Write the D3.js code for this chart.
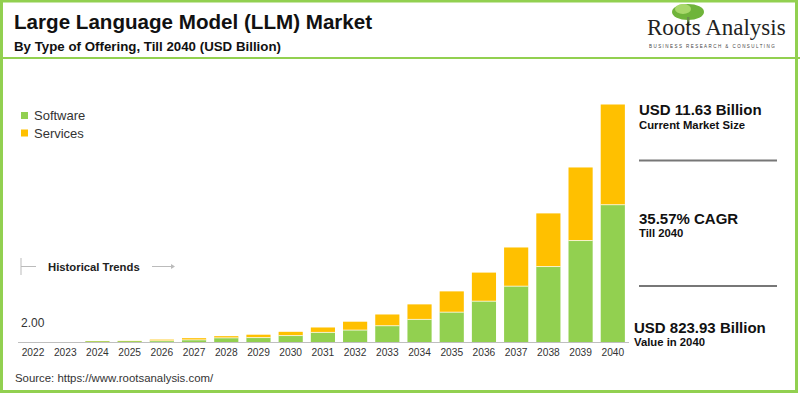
<!DOCTYPE html>
<html><head><meta charset="utf-8">
<script src="https://cdn.jsdelivr.net/npm/d3@7/dist/d3.min.js"></script>
<style>body{margin:0;background:#fff}svg{display:block;font-family:"Liberation Sans",Arial,sans-serif}</style>
</head><body><div id="chart"></div>
<script>
const years = ["2022","2023","2024","2025","2026","2027","2028","2029","2030","2031","2032","2033","2034","2035","2036","2037","2038","2039","2040"];
const software = [0.4,0.6,4.5,4.8,6,9,16,17,24,35,43,58,80,105,143,195,263,353,477];
const services = [0.2,0.3,0.6,0.7,4,6,6,10,13,17,29,39,52,72,99,134,184,253,347];
const seriesNames = ["Software","Services"];
const colors = ["#92D050","#FFC000"];

const W=800,H=393;
const svg=d3.select("#chart").append("svg").attr("width",W).attr("height",H);
svg.append("rect").attr("width",W).attr("height",H).attr("fill","#fff");

const x=d3.scaleBand().domain(years).range([16.9,628.9]).paddingInner(0.25).paddingOuter(0.125);
const y=d3.scaleLinear().domain([0,824]).range([342.5,104.5]);

const data=years.map((yr,i)=>({year:yr,Software:software[i],Services:services[i]}));
const stack=d3.stack().keys(seriesNames)(data);
svg.append("g").selectAll("g").data(stack).join("g").attr("fill",(d,i)=>colors[i])
  .selectAll("rect").data(d=>d).join("rect")
  .attr("x",d=>x(d.data.year)).attr("width",x.bandwidth())
  .attr("y",d=>y(d[1])).attr("height",d=>Math.max(0,y(d[0])-y(d[1])));
svg.append("g").selectAll("line").data(data.filter(d=>d.Services>1)).join("line")
  .attr("x1",d=>x(d.year)).attr("x2",d=>x(d.year)+x.bandwidth())
  .attr("y1",d=>y(d.Software)).attr("y2",d=>y(d.Software))
  .attr("stroke","#fff").attr("stroke-opacity",0.7).attr("stroke-width",1);

const xAxis=d3.axisBottom(x).tickSize(0).tickPadding(6);
const gx=svg.append("g").attr("transform","translate(0,342.5)").call(xAxis);
gx.select(".domain").attr("stroke","#bfbfbf").attr("d","M18,0H629");
gx.selectAll("text").attr("font-size",10.2).attr("fill","#333").attr("font-family","'Liberation Sans',Arial,sans-serif");

svg.append("text").attr("x",21).attr("y",327).attr("font-size",12).attr("fill","#333").text("2.00");

const ht=svg.append("g").attr("stroke","#bbb").attr("stroke-width",1);
ht.append("line").attr("x1",21).attr("x2",21).attr("y1",258).attr("y2",275);
ht.append("line").attr("x1",21).attr("x2",36).attr("y1",266.5).attr("y2",266.5);
ht.append("line").attr("x1",152).attr("x2",174).attr("y1",266.5).attr("y2",266.5);
svg.append("path").attr("d","M171,264L175,266.5L171,269Z").attr("fill","#bbb");
svg.append("text").attr("x",48).attr("y",270.5).attr("font-size",11.3).attr("font-weight","bold").attr("fill","#222").text("Historical Trends");

const lg=svg.append("g").attr("transform","translate(21,112)");
seriesNames.forEach((n,i)=>{
  lg.append("rect").attr("x",0).attr("y",i*17.5).attr("width",7).attr("height",7).attr("fill",colors[i]);
  lg.append("text").attr("x",13).attr("y",i*17.5+8).attr("font-size",13).attr("fill","#333").text(n);
});

svg.append("text").attr("x",14).attr("y",28.5).attr("font-size",20.6).attr("font-weight","bold").attr("fill","#111").text("Large Language Model (LLM) Market");
svg.append("text").attr("x",14).attr("y",51).attr("font-size",13.3).attr("font-weight","bold").attr("fill","#111").text("By Type of Offering, Till 2040 (USD Billion)");
svg.append("text").attr("x",15).attr("y",382).attr("font-size",11.4).attr("fill","#333").text("Source: https://www.rootsanalysis.com/");

const ann=[{t1:"USD 11.63 Billion",t2:"Current Market Size",x:639,y:115},
           {t1:"35.57% CAGR",t2:"Till 2040",x:639,y:223.5},
           {t1:"USD 823.93 Billion",t2:"Value in 2040",x:634,y:332.5}];
ann.forEach(a=>{
  svg.append("text").attr("x",a.x).attr("y",a.y).attr("font-size",15).attr("font-weight","bold").attr("fill","#111").text(a.t1);
  svg.append("text").attr("x",a.x).attr("y",a.y+13.5).attr("font-size",11.3).attr("font-weight","bold").attr("fill","#111").text(a.t2);
});
[160.5,286].forEach(v=>svg.append("line").attr("x1",639).attr("x2",777).attr("y1",v).attr("y2",v).attr("stroke","#777").attr("stroke-width",2));

const logo=svg.append("g");
logo.append("ellipse").attr("cx",688).attr("cy",12).attr("rx",16).attr("ry",8).attr("fill","#6fb43a");
logo.append("ellipse").attr("cx",683).attr("cy",9).attr("rx",8).attr("ry",5).attr("fill","#a8d86a");
logo.append("rect").attr("x",687).attr("y",17).attr("width",2.5).attr("height",9).attr("fill","#6a8f4a");
logo.append("text").attr("x",647).attr("y",35).attr("font-family","'Liberation Serif','DejaVu Serif',serif").attr("font-size",23).attr("fill","#222").text("Roots Analysis");
logo.append("text").attr("x",649).attr("y",47.5).attr("font-size",4.5).attr("letter-spacing",1.45).attr("fill","#444").text("BUSINESS RESEARCH & CONSULTING");

svg.append("line").attr("x1",0).attr("x2",W).attr("y1",58).attr("y2",58).attr("stroke","#92D050").attr("stroke-width",2);
svg.append("rect").attr("x",1.5).attr("y",1).attr("width",795).attr("height",390.5).attr("fill","none").attr("stroke","#92D050").attr("stroke-width",3);
</script></body></html>
